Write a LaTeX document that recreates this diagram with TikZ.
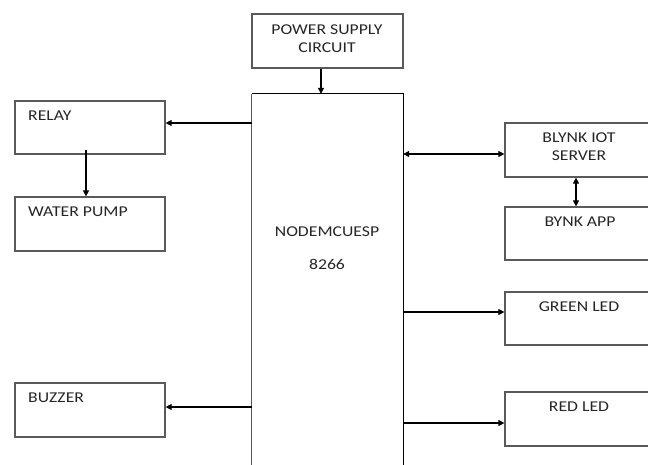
\documentclass[tikz,border=0pt]{standalone}
\usepackage{fontspec}
\setmainfont{Carlito}[FakeStretch=1.18]
\usetikzlibrary{arrows.meta,calc}
\definecolor{boxgray}{HTML}{5A5A5A}
\definecolor{txt}{HTML}{262626}
\tikzset{
  blk/.style={draw=boxgray, line width=1.2pt, rectangle, inner sep=0pt},
  lbl/.style={text=txt, font=\fontsize{15}{18}\selectfont, inner sep=0pt},
  arr/.style={draw=black, line width=1.1pt, -{Triangle[length=6pt,width=6pt]}},
  darr/.style={draw=black, line width=1.1pt, {Triangle[length=6pt,width=6pt]}-{Triangle[length=6pt,width=6pt]}}
}
\begin{document}
\begin{tikzpicture}[x=1pt,y=-1pt]
\useasboundingbox (0,0) rectangle (648,464);
\clip (0,0) rectangle (648,464);
% boxes
\node[blk, minimum width=151pt, minimum height=54pt] (pwr) at (327.5,41) {};
\node[minimum width=151pt, minimum height=380pt, inner sep=0pt] (mcu) at (327.5,284) {};
\draw[boxgray, line width=1.2pt] (mcu.south west) -- (mcu.north west);
\draw[black, line width=1.2pt] (mcu.north west) -- (mcu.north east) -- (mcu.south east);
\node[blk, minimum width=150pt, minimum height=53pt] (relay) at (90,127.5) {};
\node[blk, minimum width=150pt, minimum height=54pt] (pump) at (90,224) {};
\node[blk, minimum width=150pt, minimum height=54pt] (buzz) at (90,410) {};
\node[blk, minimum width=160pt, minimum height=54pt] (blynk) at (585,150) {};
\node[blk, minimum width=160pt, minimum height=53pt] (app) at (585,233.5) {};
\node[blk, minimum width=160pt, minimum height=53pt] (green) at (585,318.5) {};
\node[blk, minimum width=160pt, minimum height=54pt] (red) at (585,419) {};
% texts
\node[lbl, align=center] (tpwr) at (327,39) {POWER SUPPLY\\CIRCUIT};
\node[lbl] (tmcu1) at (327,232) {NODEMCUESP};
\node[lbl] (tmcu2) at (327,264) {8266};
\node[lbl, anchor=west] (trelay) at (28,116) {RELAY};
\node[lbl, anchor=west] (tpump) at (28,212) {WATER PUMP};
\node[lbl, anchor=west] (tbuzz) at (28,398) {BUZZER};
\node[lbl, align=center] (tblynk) at (579,147) {BLYNK IOT\\SERVER};
\node[lbl] (tapp) at (580,222) {BYNK APP};
\node[lbl] (tgreen) at (579,307) {GREEN LED};
\node[lbl] (tred) at (579,407) {RED LED};
% connector rows/columns
\coordinate (cp) at (321,0);
\coordinate (cr) at (86,0);
\coordinate (cb) at (576,0);
\coordinate (yr) at (0,123);
\coordinate (yb) at (0,154);
\coordinate (yg) at (0,312);
\coordinate (yz) at (0,407);
\coordinate (yd) at (0,423);
% connectors
\draw[arr] (pwr.south -| cp) -- (mcu.north -| cp);
\draw[arr] (mcu.west |- yr) -- (relay.east |- yr);
\draw[arr] ($(relay.south -| cr)+(0,-5)$) -- (pump.north -| cr);
\draw[arr] (mcu.west |- yz) -- (buzz.east |- yz);
\draw[darr] (mcu.east |- yb) -- (blynk.west |- yb);
\draw[darr] (blynk.south -| cb) -- (app.north -| cb);
\draw[arr] (mcu.east |- yg) -- (green.west |- yg);
\draw[arr] (mcu.east |- yd) -- (red.west |- yd);
\end{tikzpicture}
\end{document}
